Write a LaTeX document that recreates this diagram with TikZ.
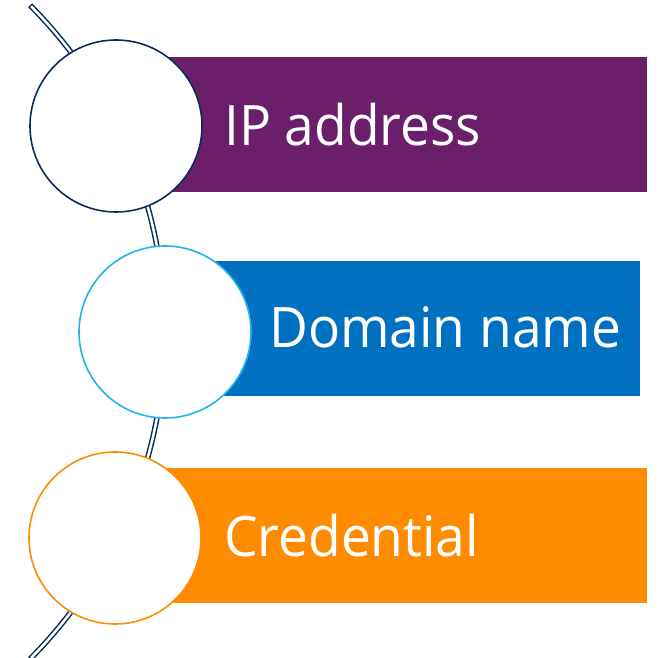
\documentclass[tikz,border=0pt]{standalone}
\usepackage{fontspec}
\setmainfont{Open Sans}
\newfontfamily\bandfont[FakeStretch=0.955]{Open Sans}
\usepackage{xcolor}
\usepackage{tikz}
\definecolor{navyline}{HTML}{0B2B5A}
\definecolor{cyanline}{HTML}{1FB5EA}
\definecolor{orangebar}{HTML}{FF8C00}
\definecolor{purplebar}{HTML}{6B1F6B}
\definecolor{bluebar}{HTML}{0070C0}
\newcommand*\ringdiam{172bp}
\newcommand*\barheight{135bp}
\tikzset{
    ring/.style     = {circle, fill=white, line width=1.6bp,
                      minimum size=\ringdiam, inner sep=0pt, outer sep=0pt},
    navyring/.style = {ring, draw=navyline},
    cyanring/.style = {ring, draw=cyanline},
    orangering/.style = {ring, draw=orangebar},
    band/.style     = {rectangle, anchor=west, minimum height=\barheight,
                      inner sep=0pt, outer sep=0pt},
    label/.style    = {anchor=base west, inner sep=0pt, text=white,
                      font=\bandfont\fontsize{56}{60}\selectfont},
    spine/.style    = {draw=navyline, double=white, line width=1.5bp,
                      double distance=2.5bp, line cap=rect},
}

\begin{document}
\begin{tikzpicture}[x=1bp, y=1bp]
    \useasboundingbox (0,0) rectangle (660,658);

    % the curved spine behind the rings
    \coordinate (spinetop) at (32,650.8);
    \draw[spine] (spinetop) arc[start angle=44.5, end angle=-44.5, radius=463.6];

    % coloured bands
    \node[band, fill=purplebar, minimum width=531bp] (b1) at (116,533.5) {};
    \node[band, fill=bluebar,   minimum width=475bp] (b2) at (165,329.5) {};
    \node[band, fill=orangebar, minimum width=531bp] (b3) at (116,122)   {};

    % rings on top
    \node[navyring]   (r1) at (116,532) {};
    \node[cyanring]   (r2) at (165,326) {};
    \node[orangering] (r3) at (115,120) {};

    % band labels
    \node[label] (t1) at (224,512) {IP address};
    \node[label] (t2) at (269,310) {Domain name};
    \node[label] (t3) at (224,101) {Credential};
\end{tikzpicture}
\end{document}
